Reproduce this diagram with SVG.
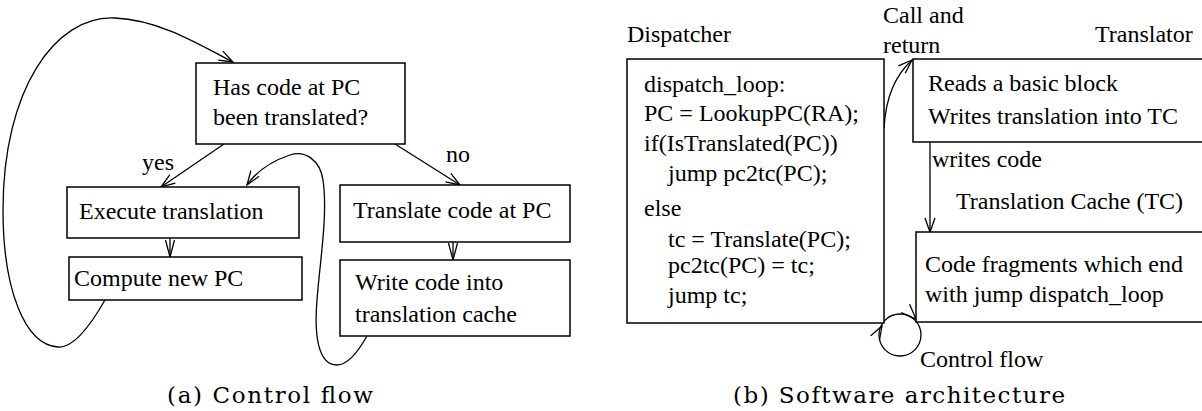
<svg xmlns="http://www.w3.org/2000/svg" width="1202" height="411" viewBox="0 0 1202 411">
<style>
.t{font-family:"Liberation Serif","Times New Roman",serif;font-size:24px;fill:#000}
.cap{font-family:"DejaVu Serif",serif;font-size:23px;fill:#000}
.box{fill:#fff;stroke:#000;stroke-width:1.5}
.ln{fill:none;stroke:#000;stroke-width:1.3}
.ar{marker-end:url(#ah)}
.an{marker-end:url(#an)}
</style>
<defs>
<marker id="ah" markerUnits="userSpaceOnUse" markerWidth="20" markerHeight="16" viewBox="-18 -8 20 16" refX="0" refY="0" orient="auto">
<path d="M-14,-5 L0,0 L-14,5" fill="none" stroke="#000" stroke-width="1.3"/>
</marker>
<marker id="an" markerUnits="userSpaceOnUse" markerWidth="22" markerHeight="16" viewBox="-20 -8 22 16" refX="0" refY="0" orient="auto">
<path d="M-17,-4.5 L0,0 L-17,4.5" fill="none" stroke="#000" stroke-width="1.3"/>
</marker>
</defs>
<rect width="1202" height="411" fill="#fff"/>

<g id="connectors">
<path class="ln ar" d="M105,300 C 85,335 70,348 58,347 C 25,345 3,290 3,210 C 3,90 55,15 115,18 C 160,20 200,45 233,62"/>
<path class="ln ar" d="M367,336 C 358,352 348,365 337,365 C 318,365 314,335 317,300 C 320,260 328,215 323,180 C 320,160 305,150 290,155 C 272,161 256,172 247,185"/>
<path class="ln ar" d="M224,144 L161,187"/>
<path class="ln ar" d="M395,144 L460,185"/>
<path class="ln an" d="M170,238 L170,257"/>
<path class="ln an" d="M453,242 L453,260"/>
<path class="ln ar" d="M884,128 C 886,95 896,75 912,60"/>
<path class="ln ar" d="M930,142 L930,232"/>
<circle class="ln" cx="900" cy="335" r="21"/>
<path class="ln" d="M909.6,304.2 L916,319 L901.2,312.6"/>
<path class="ln" d="M879.4,340.7 L882,326 L870.7,335.7"/>
</g>

<g id="n-check">
<rect class="box" x="196" y="63" width="209" height="81"/>
<text class="t" x="213" y="95">Has code at PC</text>
<text class="t" x="213" y="125">been translated?</text>
</g>
<g id="n-execute">
<rect class="box" x="67" y="187" width="232" height="51"/>
<text class="t" x="79" y="219">Execute translation</text>
</g>
<g id="n-compute">
<rect class="box" x="69" y="257" width="233" height="43"/>
<text class="t" x="74" y="286">Compute new PC</text>
</g>
<g id="n-translate">
<rect class="box" x="340" y="185" width="230" height="57"/>
<text class="t" x="353" y="218">Translate code at PC</text>
</g>
<g id="n-write">
<rect class="box" x="340" y="260" width="230" height="76"/>
<text class="t" x="355" y="290">Write code into</text>
<text class="t" x="355" y="322">translation cache</text>
</g>
<g id="labels-a">
<text class="t" x="142" y="170">yes</text>
<text class="t" x="446" y="162">no</text>
<text class="cap" x="167" y="403" textLength="206" lengthAdjust="spacing">(a) Control flow</text>
</g>

<g id="n-dispatcher">
<text class="t" x="627" y="42">Dispatcher</text>
<rect class="box" x="627" y="59" width="257" height="264"/>
<text class="t" x="644" y="92">dispatch_loop:</text>
<text class="t" x="644" y="121">PC = LookupPC(RA);</text>
<text class="t" x="644" y="151">if(IsTranslated(PC))</text>
<text class="t" x="668" y="181">jump pc2tc(PC);</text>
<text class="t" x="644" y="216">else</text>
<text class="t" x="668" y="247">tc = Translate(PC);</text>
<text class="t" x="668" y="273">pc2tc(PC) = tc;</text>
<text class="t" x="668" y="303">jump tc;</text>
</g>
<g id="n-translator">
<text class="t" x="1095" y="42">Translator</text>
<rect class="box" x="913" y="59" width="300" height="83"/>
<text class="t" x="928" y="91">Reads a basic block</text>
<text class="t" x="928" y="124">Writes translation into TC</text>
</g>
<g id="n-cache">
<text class="t" x="956" y="209">Translation Cache (TC)</text>
<rect class="box" x="916" y="232" width="300" height="90"/>
<text class="t" x="925" y="272">Code fragments which end</text>
<text class="t" x="925" y="302">with jump dispatch_loop</text>
</g>
<g id="labels-b">
<text class="t" x="883" y="23">Call and</text>
<text class="t" x="883" y="53">return</text>
<text class="t" x="932" y="167">writes code</text>
<text class="t" x="920" y="367">Control flow</text>
<text class="cap" x="733" y="403" textLength="332" lengthAdjust="spacing">(b) Software architecture</text>
</g>
</svg>
